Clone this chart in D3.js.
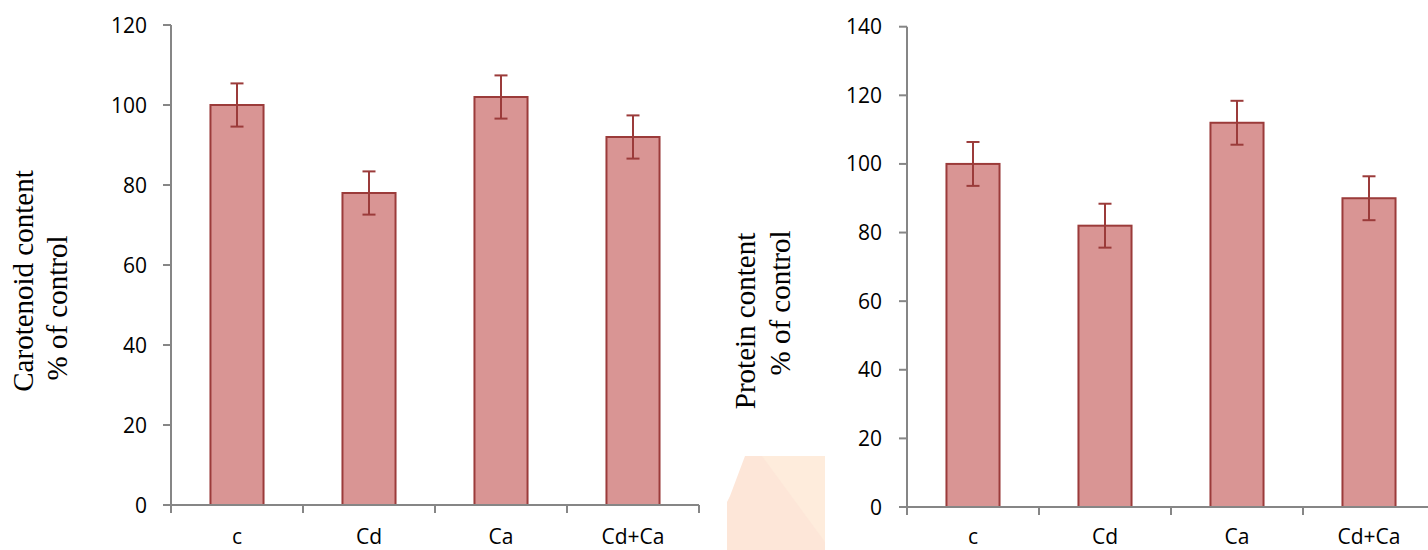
<!DOCTYPE html>
<html>
<head>
<meta charset="utf-8">
<script src="https://cdn.jsdelivr.net/npm/d3@7"></script>
<style>
  html, body { margin: 0; padding: 0; background: #fff; }
  svg { display: block; }
</style>
</head>
<body>
<svg id="chart" width="1428" height="550"></svg>
<script>
const categories = ["c", "Cd", "Ca", "Cd+Ca"];
const carotenoidValues = [100, 78, 102, 92];
const carotenoidErrors = [5.4, 5.4, 5.4, 5.4];
const proteinValues = [100, 82, 112, 90];
const proteinErrors = [6.4, 6.4, 6.4, 6.4];
const carotenoidTicks = [0, 20, 40, 60, 80, 100, 120];
const proteinTicks = [0, 20, 40, 60, 80, 100, 120, 140];

const svg = d3.select("#chart");
const AXIS = "#868686", FILL = "#d99594", STROKE = "#9b3b3a";

// decorative peach patch between the panels
const deco = svg.append("g");
deco.append("polygon")
  .attr("points", "727,502 730,496 733,488 736,480 739,472 742,464 745,456 825,456 825,550 727,550")
  .attr("fill", "#fde6d8");
deco.append("polygon")
  .attr("points", "762,456 825,456 825,542")
  .attr("fill", "#feecdc");

function panel(cfg) {
  const g = svg.append("g");
  const y = d3.scaleLinear().domain([0, cfg.max]).range([cfg.y0, cfg.yTop]);
  const x = d3.scaleBand().domain(categories)
    .range([cfg.x0, cfg.x0 + 528]).paddingInner(0.598).paddingOuter(0.299);
  const step = x.step();

  // y axis
  g.append("line").attr("x1", cfg.x0).attr("x2", cfg.x0)
    .attr("y1", y(cfg.max)).attr("y2", cfg.y0 + 8)
    .attr("stroke", AXIS).attr("stroke-width", 2);
  cfg.ticks.forEach(t => {
    g.append("line").attr("x1", cfg.x0 - 8).attr("x2", cfg.x0)
      .attr("y1", y(t)).attr("y2", y(t))
      .attr("stroke", AXIS).attr("stroke-width", 2);
    g.append("text").attr("x", cfg.labelRight).attr("y", y(t))
      .attr("dy", "0.36em").attr("text-anchor", "end")
      .attr("font-family", "'Open Sans', sans-serif").attr("font-size", 21)
      .attr("fill", "#000").text(t);
  });

  // bars
  g.selectAll("rect.bar").data(cfg.values).enter().append("rect")
    .attr("x", (d, i) => x(categories[i]))
    .attr("width", x.bandwidth())
    .attr("y", d => y(d))
    .attr("height", d => cfg.y0 - y(d))
    .attr("fill", FILL).attr("stroke", STROKE).attr("stroke-width", 2);

  // x axis
  g.append("line").attr("x1", cfg.x0 - 8).attr("x2", cfg.x0 + 4 * step)
    .attr("y1", cfg.y0).attr("y2", cfg.y0)
    .attr("stroke", AXIS).attr("stroke-width", 2);
  for (let i = 0; i <= categories.length; i++) {
    const xx = cfg.x0 + i * step;
    g.append("line").attr("x1", xx).attr("x2", xx)
      .attr("y1", cfg.y0).attr("y2", cfg.y0 + 8)
      .attr("stroke", AXIS).attr("stroke-width", 2);
  }
  categories.forEach(c => {
    g.append("text").attr("x", x(c) + x.bandwidth() / 2).attr("y", 544)
      .attr("text-anchor", "middle")
      .attr("font-family", "'Open Sans', sans-serif").attr("font-size", 21)
      .attr("fill", "#000").text(c);
  });

  // error bars
  cfg.values.forEach((v, i) => {
    const cx = x(categories[i]) + x.bandwidth() / 2;
    const e = cfg.errors[i];
    g.append("line").attr("x1", cx).attr("x2", cx)
      .attr("y1", y(v + e)).attr("y2", y(v - e))
      .attr("stroke", STROKE).attr("stroke-width", 2);
    [v + e, v - e].forEach(yy => {
      g.append("line").attr("x1", cx - 6.5).attr("x2", cx + 6.5)
        .attr("y1", y(yy)).attr("y2", y(yy))
        .attr("stroke", STROKE).attr("stroke-width", 2);
    });
  });

  // y title (two lines)
  cfg.titles.forEach(tl => {
    g.append("text")
      .attr("transform", `translate(${tl.x},${tl.cy}) rotate(-90)`)
      .attr("text-anchor", "middle")
      .attr("font-family", "'Liberation Serif', 'Times New Roman', serif")
      .attr("font-size", 29).attr("fill", "#000").text(tl.text);
  });
}

panel({
  x0: 171, y0: 505, yTop: 25, max: 120, ticks: carotenoidTicks,
  values: carotenoidValues, errors: carotenoidErrors, labelRight: 147,
  titles: [{ text: "Carotenoid content", x: 33, cy: 281 },
           { text: "% of control", x: 67, cy: 308 }]
});
panel({
  x0: 907, y0: 507, yTop: 26.7, max: 140, ticks: proteinTicks,
  values: proteinValues, errors: proteinErrors, labelRight: 882,
  titles: [{ text: "Protein content", x: 755, cy: 321 },
           { text: "% of control", x: 790, cy: 303 }]
});
</script>
</body>
</html>
